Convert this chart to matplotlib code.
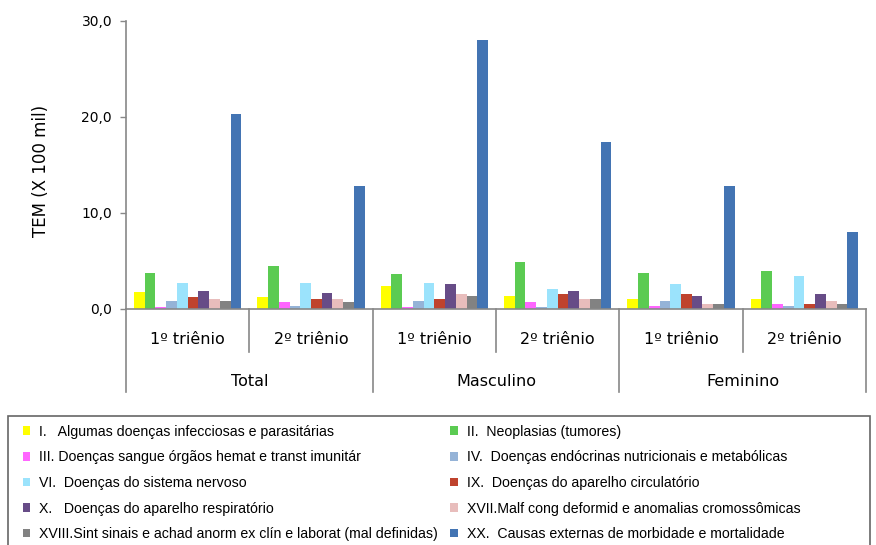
import matplotlib
matplotlib.use("Agg")
import matplotlib.pyplot as plt
from matplotlib.patches import Rectangle
import numpy as np

# categories: (sexo, triênio)
triennios = ["1º triênio", "2º triênio", "1º triênio", "2º triênio", "1º triênio", "2º triênio"]
sexos = ["Total", "Masculino", "Feminino"]

series_labels = [
    "I.   Algumas doenças infecciosas e parasitárias",
    "II.  Neoplasias (tumores)",
    "III. Doenças sangue órgãos hemat e transt imunitár",
    "IV.  Doenças endócrinas nutricionais e metabólicas",
    "VI.  Doenças do sistema nervoso",
    "IX.  Doenças do aparelho circulatório",
    "X.   Doenças do aparelho respiratório",
    "XVII.Malf cong deformid e anomalias cromossômicas",
    "XVIII.Sint sinais e achad anorm ex clín e laborat (mal definidas)",
    "XX.  Causas externas de morbidade e mortalidade",
]

cap_I = [1.73, 1.2, 2.4, 1.39, 1.04, 1.04]
cap_II = [3.75, 4.5, 3.6, 4.93, 3.75, 3.92]
cap_III = [0.2, 0.69, 0.2, 0.69, 0.35, 0.52]
cap_IV = [0.86, 0.35, 0.87, 0.17, 0.87, 0.35]
cap_VI = [2.74, 2.74, 2.74, 2.05, 2.6, 3.44]
cap_IX = [1.2, 1.04, 1.04, 1.56, 1.56, 0.52]
cap_X = [1.87, 1.7, 2.57, 1.88, 1.35, 1.56]
cap_XVII = [1.04, 1.04, 1.56, 1.04, 0.52, 0.87]
cap_XVIII = [0.86, 0.69, 1.39, 1.04, 0.52, 0.52]
cap_XX = [20.3, 12.8, 28.0, 17.4, 12.8, 8.0]

values = [cap_I, cap_II, cap_III, cap_IV, cap_VI, cap_IX, cap_X, cap_XVII, cap_XVIII, cap_XX]
colors = ["#FFFF00", "#5BCB52", "#FF66FF", "#95B3D7", "#9BE3FC",
          "#BF432D", "#674C87", "#E8BDBC", "#828282", "#4374B3"]

fig = plt.figure(figsize=(8.76, 5.45), dpi=100)
ax = fig.add_axes([126 / 876, 1 - 309 / 545, 740 / 876, 288 / 545])

x = np.arange(len(triennios))
w = 0.087
handles = []
for j, (vals, c) in enumerate(zip(values, colors)):
    b = ax.bar(x + (j - 4.5) * w, vals, width=w, color=c, edgecolor="none")
    handles.append(b)

ax.set_xlim(-0.5, len(triennios) - 0.5)
ax.set_ylim(0, 30)
ax.set_yticks([0, 10, 20, 30])
ax.set_yticklabels(["0,0", "10,0", "20,0", "30,0"], fontsize=10)
ax.tick_params(axis="y", length=4, width=1, color="#888888", pad=6)
ax.set_ylabel("TEM (X 100 mil)", fontsize=12)
ax.yaxis.set_label_coords(-76 / 740, 0.48)

for s in ["top", "right"]:
    ax.spines[s].set_visible(False)
for s in ["left", "bottom"]:
    ax.spines[s].set_color("#888888")
    ax.spines[s].set_linewidth(1.2)

ax.set_xticks([])
trans = ax.get_xaxis_transform()
# category table lines under the axis
for i in range(len(triennios) + 1):
    xe = i - 0.5
    y_end = -83 / 288 if i % 2 == 0 else -43 / 288
    ax.plot([xe, xe], [0, y_end], transform=trans, color="#888888", lw=1.2, clip_on=False)

for i, t in enumerate(triennios):
    ax.text(i, -30 / 288, t, transform=trans, ha="center", va="center", fontsize=11.5)
for k, s in enumerate(sexos):
    ax.text(2 * k + 0.5, -72 / 288, s, transform=trans, ha="center", va="center", fontsize=11.5)

# legend, filled row-wise
order = [0, 2, 4, 6, 8, 1, 3, 5, 7, 9]
leg = fig.legend([handles[i] for i in order], [series_labels[i] for i in order],
                 loc="upper left", bbox_to_anchor=(17 / 876, 1 - 419 / 545),
                 ncol=2, frameon=False, prop={"family": "Liberation Sans", "size": 10.2},
                 handlelength=0.55, handleheight=0.55, handletextpad=0.6,
                 labelspacing=0.82, columnspacing=0.9, borderaxespad=0)

fig.patches.append(Rectangle((8 / 876, -0.01), 862 / 876, 1 - 416 / 545 + 0.01,
                             transform=fig.transFigure, fill=False,
                             edgecolor="#666666", lw=1.2))

fig.savefig("out.png", dpi=100)
